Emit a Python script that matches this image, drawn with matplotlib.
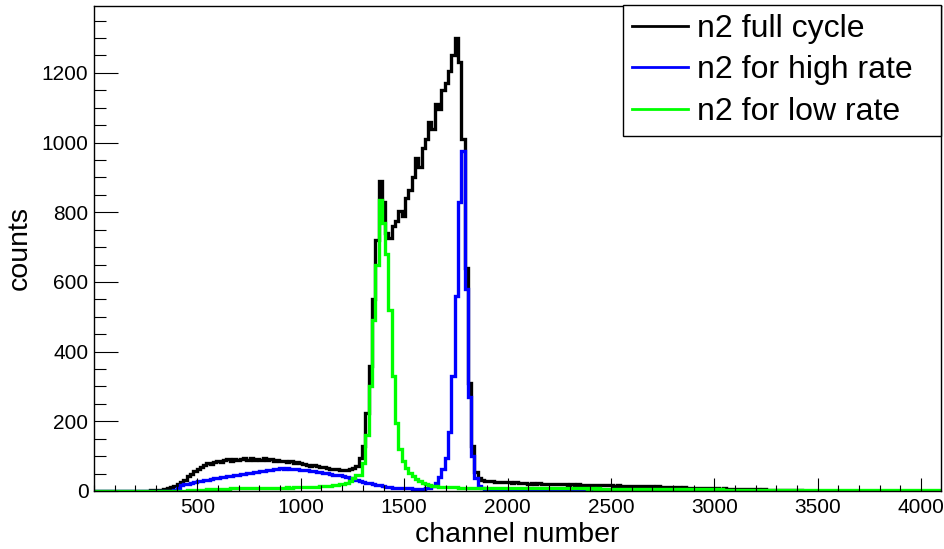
import numpy as np
import matplotlib
matplotlib.use('Agg')
import matplotlib.pyplot as plt
from matplotlib.ticker import MultipleLocator, FixedLocator

# 16-channel bins, 0..4096, one row = 256 channels
bin_width = 16
n_channels = 4096

full_cycle = [
    0, 0, 0, 0, 0, 0, 0, 0, 0, 0, 0, 0, 0, 0, 1, 1,
    1, 2, 3, 3, 4, 6, 8, 11, 15, 20, 26, 33, 42, 50, 58, 64,
    70, 74, 79, 78, 84, 86, 83, 90, 92, 87, 93, 89, 91, 96, 88, 94,
    90, 92, 88, 95, 89, 91, 86, 90, 85, 87, 83, 86, 80, 82, 79, 77,
    76, 73, 74, 71, 70, 68, 67, 64, 62, 63, 60, 61, 60, 63, 66, 72,
    95, 130, 225, 360, 550, 720, 890, 830, 740, 725, 760, 775, 805, 790, 840, 865,
    900, 955, 930, 985, 1010, 1060, 1040, 1110, 1095, 1150, 1170, 1205, 1250, 1300, 1230, 1010,
    640, 310, 130, 55, 36, 32, 30, 28, 29, 27, 26, 27, 25, 26, 24, 25,
    23, 22, 23, 21, 22, 21, 22, 20, 21, 20, 21, 19, 20, 19, 20, 18,
    19, 18, 19, 17, 18, 17, 18, 16, 17, 16, 17, 16, 16, 15, 16, 15,
    15, 14, 15, 14, 14, 13, 14, 13, 13, 12, 13, 12, 12, 11, 12, 11,
    11, 10, 11, 10, 10, 9, 10, 9, 9, 8, 9, 8, 8, 7, 8, 7,
    7, 6, 7, 6, 6, 5, 6, 5, 5, 4, 5, 4, 4, 3, 4, 3,
    3, 3, 2, 2, 2, 2, 1, 1, 1, 1, 1, 1, 0, 1, 0, 0,
    0, 0, 0, 0, 0, 0, 0, 0, 0, 0, 0, 0, 0, 0, 0, 0,
    0, 0, 0, 0, 0, 0, 0, 0, 0, 0, 0, 0, 0, 0, 0, 0,
]

high_rate = [
    0, 0, 0, 0, 0, 0, 0, 0, 0, 0, 0, 0, 0, 0, 0, 0,
    0, 0, 0, 0, 0, 0, 0, 1, 2, 8, 16, 19, 21, 24, 26, 28,
    29, 31, 33, 34, 36, 37, 40, 41, 43, 44, 47, 46, 49, 50, 52, 51,
    54, 55, 57, 56, 59, 60, 62, 64, 65, 63, 66, 64, 62, 63, 60, 61,
    59, 57, 56, 55, 54, 52, 51, 49, 47, 46, 45, 42, 40, 37, 34, 31,
    28, 26, 24, 22, 20, 18, 16, 14, 12, 11, 10, 9, 9, 8, 8, 8,
    7, 7, 7, 7, 8, 10, 14, 22, 40, 62, 95, 170, 330, 560, 830, 975,
    580, 270, 100, 38, 15, 8, 6, 6, 5, 5, 5, 5, 5, 5, 5, 5,
    5, 5, 5, 4, 5, 4, 4, 4, 4, 4, 4, 4, 3, 4, 3, 3,
    3, 3, 3, 3, 3, 3, 3, 2, 3, 2, 2, 2, 2, 2, 2, 2,
    2, 2, 2, 2, 2, 2, 2, 2, 2, 2, 2, 2, 2, 2, 2, 2,
    2, 2, 2, 1, 2, 1, 1, 1, 1, 1, 1, 1, 1, 1, 1, 1,
    1, 1, 1, 1, 1, 1, 1, 1, 1, 1, 1, 0, 1, 0, 1, 0,
    1, 0, 0, 0, 1, 0, 0, 0, 0, 0, 0, 0, 0, 0, 0, 0,
    0, 0, 0, 0, 0, 0, 0, 0, 0, 0, 0, 0, 0, 0, 0, 0,
    0, 0, 0, 0, 0, 0, 0, 0, 0, 0, 0, 0, 0, 0, 0, 0,
]

low_rate = [
    0, 0, 0, 0, 0, 0, 0, 0, 0, 0, 0, 0, 0, 0, 0, 0,
    0, 0, 0, 0, 0, 0, 0, 0, 0, 0, 1, 1, 2, 2, 3, 3,
    4, 4, 5, 5, 6, 6, 7, 7, 7, 8, 8, 8, 8, 9, 9, 9,
    9, 9, 10, 9, 10, 10, 10, 10, 10, 10, 11, 10, 11, 11, 11, 11,
    11, 12, 12, 12, 13, 13, 14, 15, 16, 17, 19, 21, 24, 29, 36, 46,
    45, 80, 160, 300, 490, 650, 835, 770, 680, 520, 330, 195, 120, 85, 65, 52,
    42, 34, 28, 23, 20, 17, 15, 13, 12, 12, 11, 11, 11, 11, 10, 10,
    10, 10, 10, 10, 10, 10, 10, 9, 10, 9, 10, 9, 9, 9, 9, 9,
    9, 9, 9, 9, 9, 9, 8, 9, 8, 9, 8, 8, 8, 8, 8, 8,
    8, 8, 8, 8, 8, 7, 8, 7, 8, 7, 7, 7, 7, 7, 7, 7,
    7, 7, 7, 6, 7, 6, 7, 6, 6, 6, 6, 6, 6, 6, 6, 6,
    6, 5, 6, 5, 5, 5, 5, 5, 5, 5, 5, 5, 4, 5, 4, 4,
    4, 4, 4, 4, 4, 4, 3, 4, 3, 3, 3, 3, 3, 3, 3, 3,
    3, 3, 3, 3, 3, 2, 3, 2, 3, 2, 2, 2, 2, 2, 2, 2,
    2, 2, 2, 2, 2, 2, 2, 2, 2, 2, 2, 2, 2, 2, 2, 2,
    2, 2, 2, 2, 2, 2, 2, 2, 2, 2, 2, 2, 2, 2, 2, 2,
]

x_ticks = [500, 1000, 1500, 2000, 2500, 3000, 3500, 4000]
y_ticks = [0, 200, 400, 600, 800, 1000, 1200]

plt.rcParams['font.family'] = ['Liberation Sans', 'DejaVu Sans']

edges = np.arange(0, n_channels + bin_width, bin_width)

fig = plt.figure(figsize=(9.44, 5.49), dpi=100)
ax = fig.add_axes([94/944, 1 - 491/549, 847/944, 485/549])

ax.stairs(full_cycle, edges, color='black', lw=2.4, label='n2 full cycle')
ax.stairs(high_rate, edges, color='#0000ff', lw=2.4, label='n2 for high rate')
ax.stairs(low_rate, edges, color='#00ff00', lw=2.4, label='n2 for low rate')

ax.set_xlim(0, n_channels)
ax.set_ylim(0, 1392)

ax.xaxis.set_major_locator(FixedLocator(x_ticks))
ax.xaxis.set_minor_locator(MultipleLocator(100))
ax.yaxis.set_major_locator(FixedLocator(y_ticks))
ax.yaxis.set_minor_locator(MultipleLocator(50))

ax.tick_params(axis='x', which='major', direction='in', length=9.5, width=0.8, labelsize=15, pad=5)
ax.tick_params(axis='x', which='minor', direction='in', length=4.5, width=0.8)
ax.tick_params(axis='y', which='major', direction='in', length=17, width=0.8, labelsize=15, pad=4)
ax.tick_params(axis='y', which='minor', direction='in', length=8.5, width=0.8)

for sp in ax.spines.values():
    sp.set_linewidth(1.0)

ax.set_xlabel('channel number', fontsize=20.5, labelpad=4)
ax.set_ylabel('counts', fontsize=20.5, labelpad=6)

leg = ax.legend(loc='upper left', bbox_to_anchor=(0.6245, 0.0, 0.3755, 1.002),
                mode='expand', borderaxespad=0,
                fontsize=23, fancybox=False, edgecolor='black', framealpha=1,
                handlelength=1.75, handletextpad=0.3, labelspacing=0.36,
                borderpad=0.28)
leg.get_frame().set_linewidth(1.0)
for line in leg.get_lines():
    line.set_linewidth(2.0)

fig.savefig('out.png', dpi=100)
